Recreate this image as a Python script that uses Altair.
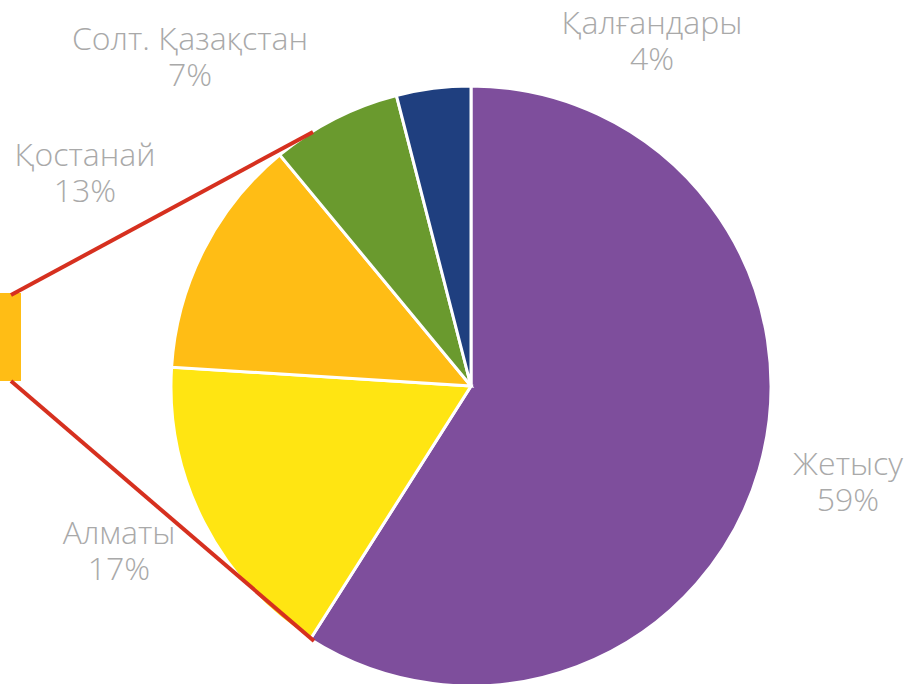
import altair as alt
import pandas as pd

# ---- data ----
regions = ["Жетысу", "Алматы", "Қостанай", "Солт. Қазақстан", "Қалғандары"]
shares = [59, 17, 13, 7, 4]
colors = ["#7E4E9C", "#FFE512", "#FFBD15", "#6A9A2E", "#1F3F7F"]

# ---- layout (pixels) ----
CX, CY, R = 471, 386, 300
# centre of the first label line for each slice
label_pos = {
    "Жетысу": (848, 465),
    "Алматы": (119, 534),
    "Қостанай": (85, 156),
    "Солт. Қазақстан": (190, 40),
    "Қалғандары": (652, 24),
}

pie_df = pd.DataFrame({
    "region": regions,
    "share": shares,
    "order": list(range(len(regions))),
})
pie_df["label"] = [f"{r}\n{s}%" for r, s in zip(regions, shares)]
pie_df["lx"] = [label_pos[r][0] for r in regions]
pie_df["ly"] = [label_pos[r][1] for r in regions]

pie = alt.Chart(pie_df).mark_arc(radius=R, stroke="white", strokeWidth=3).encode(
    theta=alt.Theta("share:Q", stack=True),
    order=alt.Order("order:Q"),
    color=alt.Color("region:N", scale=alt.Scale(domain=regions, range=colors), legend=None),
    x=alt.value(CX),
    y=alt.value(CY),
)

labels = alt.Chart(pie_df).mark_text(
    font="Open Sans", fontWeight=300, fontSize=32, color="#a9a9a9", lineBreak="\n",
    lineHeight=36, align="center", baseline="middle",
).encode(
    x=alt.X("lx:Q", scale=None),
    y=alt.Y("ly:Q", scale=None),
    text="label:N",
)

# secondary bar (cropped at left edge) and connector lines
bar_df = pd.DataFrame({"x0": [0], "x1": [21], "y0": [293], "y1": [381]})
bar = alt.Chart(bar_df).mark_rect(color="#FFBD15").encode(
    x=alt.X("x0:Q", scale=None), x2="x1:Q",
    y=alt.Y("y0:Q", scale=None), y2="y1:Q",
)

conn_df = pd.DataFrame({
    "line": ["top", "top", "bottom", "bottom"],
    "px": [11, 313, 11, 314],
    "py": [295, 132, 381, 641],
})
connectors = alt.Chart(conn_df).mark_line(color="#D6301F", strokeWidth=4).encode(
    x=alt.X("px:Q", scale=None),
    y=alt.Y("py:Q", scale=None),
    detail="line:N",
)

chart = alt.layer(pie, bar, connectors, labels).properties(
    width=913, height=684, autosize=alt.AutoSizeParams(type="none"), padding=0,
).configure_view(stroke=None)

chart.save("out.html", embed_options={"renderer": "svg", "actions": False})
